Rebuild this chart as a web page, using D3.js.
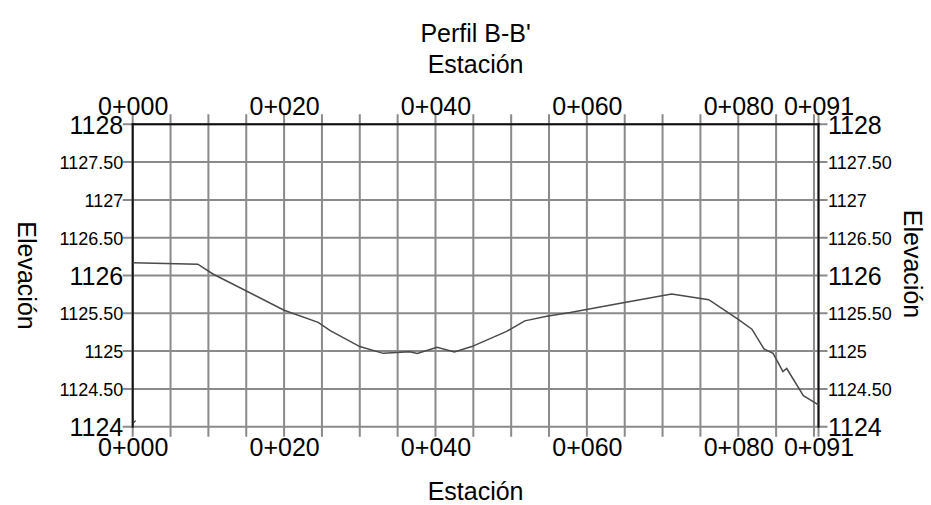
<!DOCTYPE html>
<html>
<head>
<meta charset="utf-8">
<script src="https://cdn.jsdelivr.net/npm/d3@7"></script>
<style>
  html, body { margin: 0; padding: 0; background: #fff; }
  svg { display: block; font-family: "Liberation Sans", Arial, sans-serif; }
</style>
</head>
<body>
<svg id="chart" width="931" height="505"></svg>
<script>
// ---- data ----
const stations = [0, 8.6, 10.6, 20, 24.5, 26.1, 30, 33.1, 36.6, 37.6, 40.2, 42.5, 44.8, 49.4, 51.8, 54.7, 57.8, 64.8, 71.2, 76.1, 80.0, 81.8, 83.4, 84.6, 85.9, 86.4, 88.6, 90.6];
const elevations = [1126.17, 1126.15, 1126.02, 1125.54, 1125.38, 1125.27, 1125.06, 1124.97, 1124.99, 1124.97, 1125.05, 1124.99, 1125.06, 1125.26, 1125.40, 1125.46, 1125.51, 1125.64, 1125.755, 1125.68, 1125.42, 1125.29, 1125.03, 1124.97, 1124.73, 1124.77, 1124.41, 1124.29];
const stationTicks = [0, 20, 40, 60, 80, 90.6];
const stationLabels = ["0+000", "0+020", "0+040", "0+060", "0+080", "0+091"];
const stationGrid = [5, 10, 15, 20, 25, 30, 35, 40, 45, 50, 55, 60, 65, 70, 75, 80, 85, 90];
const elevTicks = [1124, 1124.5, 1125, 1125.5, 1126, 1126.5, 1127, 1127.5, 1128];
const elevLabels = ["1124", "1124.50", "1125", "1125.50", "1126", "1126.50", "1127", "1127.50", "1128"];
const elevMajor = [true, false, false, false, true, false, false, false, true];
const title = "Perfil B-B'";
const xTitle = "Estación";
const yTitle = "Elevación";

// ---- layout ----
const svg = d3.select("#chart");
const L = 132.7, R = 818.5, T = 124.3, B = 426.7;
const x = d3.scaleLinear().domain([0, 90.6]).range([L, R]);
const y = d3.scaleLinear().domain([1124, 1128]).range([B, T]);
const gridColor = "#8a8a8a";

// vertical grid lines (extend beyond frame as ticks)
svg.append("g").selectAll("line").data(stationGrid).join("line")
  .attr("x1", d => x(d)).attr("x2", d => x(d))
  .attr("y1", T - 10).attr("y2", B + 10)
  .attr("stroke", gridColor).attr("stroke-width", 2);
// end tick lines at 0 and end
svg.append("g").selectAll("line").data([0, 90.6]).join("line")
  .attr("x1", d => x(d)).attr("x2", d => x(d))
  .attr("y1", T - 10).attr("y2", B + 10)
  .attr("stroke", gridColor).attr("stroke-width", 2);

// horizontal grid lines
svg.append("g").selectAll("line").data(elevTicks).join("line")
  .attr("x1", L - 10).attr("x2", R + 9)
  .attr("y1", d => y(d)).attr("y2", d => y(d))
  .attr("stroke", gridColor).attr("stroke-width", 2);

// frame: left, top, right black
svg.append("line").attr("x1", L).attr("x2", L).attr("y1", T - 1).attr("y2", B + 1)
  .attr("stroke", "#111").attr("stroke-width", 2);
svg.append("line").attr("x1", L - 1).attr("x2", R + 1).attr("y1", T).attr("y2", T)
  .attr("stroke", "#111").attr("stroke-width", 2);
svg.append("line").attr("x1", R).attr("x2", R).attr("y1", T - 1).attr("y2", B + 1)
  .attr("stroke", "#111").attr("stroke-width", 2);

// axes labels via d3 axes
const fmtX = (d) => stationLabels[stationTicks.indexOf(d)];
const fmtY = (d) => elevLabels[elevTicks.indexOf(d)];

const topAxis = svg.append("g").attr("transform", `translate(0,${T - 9})`)
  .call(d3.axisTop(x).tickValues(stationTicks).tickFormat(fmtX).tickSize(0).tickPadding(0));
const botAxis = svg.append("g").attr("transform", `translate(0,${B + 10})`)
  .call(d3.axisBottom(x).tickValues(stationTicks).tickFormat(fmtX).tickSize(0).tickPadding(0));
[topAxis, botAxis].forEach(g => {
  g.select(".domain").remove();
  g.selectAll("text").attr("font-size", 25).attr("fill", "#000")
    .attr("font-family", "'Liberation Sans', Arial, sans-serif");
});
topAxis.selectAll("text").attr("dy", "0");
botAxis.selectAll("text").attr("dy", "0").attr("y", 19);

const leftAxis = svg.append("g").attr("transform", `translate(${L - 9.5},0)`)
  .call(d3.axisLeft(y).tickValues(elevTicks).tickFormat(fmtY).tickSize(0).tickPadding(0));
const rightAxis = svg.append("g").attr("transform", `translate(${R + 9.5},0)`)
  .call(d3.axisRight(y).tickValues(elevTicks).tickFormat(fmtY).tickSize(0).tickPadding(0));
[leftAxis, rightAxis].forEach(g => {
  g.select(".domain").remove();
  g.selectAll("text")
    .attr("font-size", d => elevMajor[elevTicks.indexOf(d)] ? 25 : 18)
    .attr("fill", "#000")
    .attr("font-family", "'Liberation Sans', Arial, sans-serif")
    .attr("dy", "0.35em");
});

// profile line
const line = d3.line().x((d, i) => x(stations[i])).y((d, i) => y(elevations[i]));
svg.append("path").datum(elevations).attr("d", line)
  .attr("fill", "none").attr("stroke", "#4a4a4a").attr("stroke-width", 1.5);
// small mark at origin
svg.append("path")
  .attr("d", `M${x(0)},${y(1124) - 3}L${x(0) + 3},${y(1124) - 6}`)
  .attr("stroke", "#333").attr("stroke-width", 1.2);

// titles
const cx = (L + R) / 2;
svg.append("text").attr("x", cx).attr("y", 42).attr("text-anchor", "middle")
  .attr("font-size", 25).text(title);
svg.append("text").attr("x", cx).attr("y", 73).attr("text-anchor", "middle")
  .attr("font-size", 25).text(xTitle);
svg.append("text").attr("x", cx).attr("y", 500).attr("text-anchor", "middle")
  .attr("font-size", 25).text(xTitle);
svg.append("text").attr("transform", `translate(18,${(T + B) / 2}) rotate(90)`)
  .attr("text-anchor", "middle").attr("font-size", 25).text(yTitle);
svg.append("text").attr("transform", `translate(904,264) rotate(90)`)
  .attr("text-anchor", "middle").attr("font-size", 25).text(yTitle);
</script>
</body>
</html>
